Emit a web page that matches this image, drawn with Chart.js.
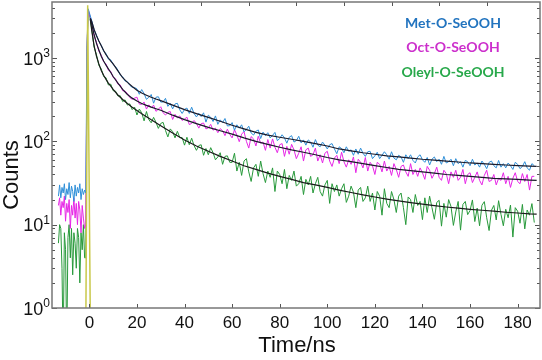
<!DOCTYPE html>
<html>
<head>
<meta charset="utf-8">
<script src="https://cdn.jsdelivr.net/npm/chart.js@4.4.0/dist/chart.umd.min.js"></script>
<style>
  html, body { margin: 0; padding: 0; background: #fff; }
  #caja { width: 542px; height: 360px; position: relative; }
</style>
</head>
<body>
<div id="caja"><canvas id="grafico"></canvas></div>
<script>
// Tiempos de las curvas medidas (ns)
const tiempoDecay = [
  -13, -12.5, -12, -11.5, -11, -10.5, -10, -9.5, -9, -8.5, -8, -7.5, -7, -6.5, -6, -5.5, -5, -4.5, -4, -3.5, -3, -2.5, -2,
  -1.5, -1, -0.5,
  0, 1, 2, 3, 4, 5, 6, 7, 8, 9,
  10, 11, 12, 13, 14, 15, 16, 17, 18, 19,
  20, 21, 22, 23, 24, 25, 26, 27, 28, 29,
  30, 31, 32, 33, 34, 35, 36, 37, 38, 39,
  40, 41, 42, 43, 44, 45, 46, 47, 48, 49,
  50, 51, 52, 53, 54, 55, 56, 57, 58, 59,
  60, 61, 62, 63, 64, 65, 66, 67, 68, 69,
  70, 71, 72, 73, 74, 75, 76, 77, 78, 79,
  80, 81, 82, 83, 84, 85, 86, 87, 88, 89,
  90, 91, 92, 93, 94, 95, 96, 97, 98, 99,
  100, 101, 102, 103, 104, 105, 106, 107, 108, 109,
  110, 111, 112, 113, 114, 115, 116, 117, 118, 119,
  120, 121, 122, 123, 124, 125, 126, 127, 128, 129,
  130, 131, 132, 133, 134, 135, 136, 137, 138, 139,
  140, 141, 142, 143, 144, 145, 146, 147, 148, 149,
  150, 151, 152, 153, 154, 155, 156, 157, 158, 159,
  160, 161, 162, 163, 164, 165, 166, 167, 168, 169,
  170, 171, 172, 173, 174, 175, 176, 177, 178, 179,
  180, 181, 182, 183, 184, 185, 186, 187
];

const cuentasMet = [
  22, 30, 21, 28, 24, 31, 20, 27, 23, 32, 21, 29, 25, 19, 30, 22, 28, 24, 31, 20, 27, 23, 26,
  24, 1400, 3900,
  3500, 2790, 2170, 1880, 1580, 1420, 1210, 1125, 970, 950,
  835, 790, 715, 625, 595, 530, 520, 470, 445, 442,
  426, 367, 418, 373, 319, 338, 365, 287, 338, 343,
  296, 297, 328, 263, 285, 245, 281, 286, 239, 216,
  242, 251, 216, 257, 216, 196, 217, 198, 220, 170,
  206, 194, 173, 202, 160, 181, 168, 188, 153, 154,
  168, 136, 158, 144, 158, 130, 139, 152, 126, 119,
  132, 137, 108, 129, 117, 127, 110, 118, 128, 102,
  108, 120, 110, 95, 112, 117, 98, 102, 115, 96,
  104, 90, 104, 98, 85, 105, 90, 86, 98, 90,
  81, 91, 94, 81, 71, 86, 82, 73, 86, 76,
  79, 68, 81, 70, 83, 72, 66, 75, 76, 62,
  67, 74, 62, 68, 75, 69, 61, 75, 63, 60,
  68, 65, 56, 69, 62, 69, 59, 55, 65, 69,
  60, 56, 64, 52, 61, 65, 57, 61, 53, 66,
  55, 57, 61, 51, 62, 54, 57, 49, 59, 57,
  51, 61, 52, 55, 49, 58, 53, 47, 56, 58,
  51, 48, 59, 49, 54, 48, 55, 51, 46, 56,
  53, 47, 50, 57, 48, 45, 54, 51
];

const cuentasOct = [
  17, 21, 13, 19, 16, 22, 11, 18, 14, 20, 9, 17, 13, 21, 12, 18, 10, 19, 15, 8, 17, 12, 9,
  10, 1300, 3800,
  3400, 2620, 1850, 1540, 1210, 1080, 900, 850, 715, 690,
  585, 565, 485, 475, 405, 400, 375, 335, 320, 330,
  339, 280, 278, 296, 244, 274, 253, 272, 229, 243,
  260, 220, 207, 223, 228, 183, 211, 191, 202, 178,
  185, 195, 159, 164, 178, 164, 144, 163, 166, 141,
  145, 160, 136, 144, 127, 142, 134, 117, 140, 121,
  110, 138, 119, 99, 122, 131, 100, 83, 114, 107,
  88, 115, 95, 98, 78, 105, 83, 107, 85, 73,
  91, 94, 66, 87, 70, 92, 79, 62, 72, 86,
  58, 79, 83, 66, 69, 83, 58, 69, 55, 72,
  76, 58, 50, 63, 68, 54, 74, 57, 49, 60,
  53, 65, 42, 61, 56, 48, 64, 44, 56, 51,
  40, 56, 53, 43, 58, 44, 50, 39, 54, 46,
  37, 50, 52, 43, 38, 54, 40, 46, 38, 48,
  42, 35, 50, 45, 36, 41, 49, 37, 34, 45,
  41, 31, 43, 37, 45, 34, 37, 46, 31, 40,
  42, 32, 37, 43, 34, 30, 39, 45, 33, 34,
  40, 30, 36, 34, 42, 31, 38, 28, 36, 42,
  33, 31, 41, 33, 40, 26, 38, 38
];

const cuentasOleyl = [
  6, 10, 9, 3, 0.3, 8, 5, 0.3, 7, 10, 4, 9, 2.5, 8, 6, 3, 9, 7, 2, 8, 5, 10, 4,
  4, 1200, 3700,
  3400, 2220, 1350, 1090, 815, 740, 600, 580, 475, 485,
  405, 400, 350, 352, 300, 315, 272, 282, 240, 258,
  207, 244, 220, 176, 228, 182, 167, 194, 169, 143,
  164, 169, 135, 113, 141, 131, 110, 132, 111, 111,
  90, 112, 91, 109, 89, 78, 89, 91, 68, 82,
  69, 84, 73, 60, 65, 73, 53, 66, 67, 56,
  56, 72, 44, 56, 39, 58, 62, 43, 33, 48,
  53, 38, 58, 41, 32, 44, 37, 48, 25, 44,
  40, 31, 46, 27, 39, 34, 44, 29, 31, 38,
  23, 35, 30, 38, 24, 31, 37, 25, 22, 30,
  34, 18, 31, 25, 30, 22, 27, 31, 18.5, 22,
  29, 24.5, 16, 26, 28, 19, 21, 29, 19, 24,
  15, 25, 22, 13, 27, 18, 16, 25, 20, 14,
  22, 24, 16, 10, 21.5, 20, 14, 23, 17, 19,
  11.5, 21, 14, 22, 16, 11.6, 18.5, 19.6, 9.6, 18,
  12.3, 20, 16.5, 9.8, 14.2, 19, 8.6, 17.5, 19, 13.2,
  14.8, 19.8, 10.9, 15.8, 9.7, 17.1, 18.9, 12.1, 8.5, 14.9,
  17, 11.4, 19.4, 13.3, 9.7, 15.3, 12.1, 17.2, 7.1, 16,
  14.5, 10.4, 17.5, 8.9, 15, 13, 17.9, 10.6
];

// Ajustes (lineas negras)
const tiempoAjuste = [0.4, 1, 2, 3, 4, 5, 6, 7, 8, 9, 10, 12, 14, 16, 18, 20, 22, 24, 26, 28, 30,
  35, 40, 45, 50, 55, 60, 65, 70, 75, 80, 85, 90, 95, 100, 105, 110, 115, 120, 125, 130,
  135, 140, 145, 150, 155, 160, 165, 170, 175, 180, 185, 188];
const ajusteMet = [3000, 2750, 2200, 1850, 1600, 1400, 1230, 1100, 1000, 920, 850, 700, 580, 510, 455, 410, 380, 358, 338, 322, 308,
  272, 240, 215, 194, 174, 156, 141, 128, 119, 112, 106, 100, 94, 88, 81, 77, 73, 70, 67, 65,
  63, 61, 59.5, 58, 56.5, 55, 54, 53, 52, 51, 50.3, 50];
const ajusteOct = [2950, 2550, 1900, 1500, 1250, 1050, 920, 820, 740, 670, 600, 500, 420, 365, 330, 305, 285, 270, 257, 246, 236,
  206, 182, 163, 147, 134, 122, 110, 100, 92, 85, 79, 74, 69, 64, 60, 57, 54, 51, 48.5, 46,
  44.5, 43, 41.5, 40, 39, 38, 37, 36, 35.5, 35, 34.3, 34];
const ajusteOleyl = [2900, 2150, 1400, 1050, 850, 710, 620, 555, 500, 460, 420, 360, 318, 284, 256, 234, 214, 197, 181, 167, 154,
  126, 104, 88, 76, 66, 58, 51, 46, 41.5, 38, 35, 32, 30, 28, 26, 24.3, 22.8, 21.5, 20.3, 19.3,
  18.4, 17.6, 16.9, 16.3, 15.8, 15.3, 14.9, 14.5, 14.1, 13.8, 13.5, 13.4];

// Respuesta del instrumento (amarillo)
const tiempoIRF = [-1.5, -0.7, 0.45];
const cuentasIRF = [0.5, 4300, 0.5];

// Ejes
const ticksX = [0, 20, 40, 60, 80, 100, 120, 140, 160, 180];
const ticksXArriba = [7, 27, 47, 67, 87, 107, 127, 147, 167];
const ticksYMayor = [1, 10, 100, 1000];
const exponentesY = ['0', '1', '2', '3'];
const ticksYMenor = [2, 3, 4, 5, 6, 7, 8, 9, 20, 30, 40, 50, 60, 70, 80, 90,
  200, 300, 400, 500, 600, 700, 800, 900, 2000, 3000, 4000];

const nombresSeries = ['Met-O-SeOOH', 'Oct-O-SeOOH', 'Oleyl-O-SeOOH'];
const coloresDatos = ['#2f8fd8', '#e626e6', '#27993a'];
const coloresTexto = ['#2274bf', '#cc2fcc', '#27a84a'];

const fuente = '"Liberation Sans", Arial, sans-serif';

function puntos(tiempos, valores) {
  return tiempos.map((t, i) => ({ x: t, y: valores[i] }));
}

function crearDataset(tiempos, valores, color, ancho, orden) {
  return {
    data: puntos(tiempos, valores),
    borderColor: color,
    borderWidth: ancho,
    pointRadius: 0,
    fill: false,
    tension: 0,
    order: orden
  };
}

const marcoPlugin = {
  id: 'marco',
  afterDraw(chart) {
    const ctx = chart.ctx;
    const a = chart.chartArea;
    const sx = chart.scales.x;
    const sy = chart.scales.y;
    ctx.save();

    // marcas de los ejes
    ctx.strokeStyle = '#555';
    ctx.lineWidth = 1;
    ctx.beginPath();
    ticksYMenor.forEach(v => {
      const py = Math.round(sy.getPixelForValue(v)) + 0.5;
      ctx.moveTo(a.left, py); ctx.lineTo(a.left + 3, py);
      ctx.moveTo(a.right, py); ctx.lineTo(a.right - 3, py);
    });
    ticksYMayor.forEach(v => {
      const py = Math.round(sy.getPixelForValue(v)) + 0.5;
      ctx.moveTo(a.left, py); ctx.lineTo(a.left + 5, py);
      ctx.moveTo(a.right, py); ctx.lineTo(a.right - 5, py);
    });
    ticksX.forEach(v => {
      const px = Math.round(sx.getPixelForValue(v)) + 0.5;
      ctx.moveTo(px, a.bottom); ctx.lineTo(px, a.bottom - 4);
    });
    ticksXArriba.forEach(v => {
      const px = Math.round(sx.getPixelForValue(v)) + 0.5;
      ctx.moveTo(px, a.top); ctx.lineTo(px, a.top + 4);
    });
    ctx.stroke();

    // marco
    ctx.strokeStyle = '#777';
    ctx.lineWidth = 1.5;
    ctx.strokeRect(a.left, a.top, a.right - a.left, a.bottom - a.top);

    // etiquetas eje x
    ctx.fillStyle = '#111';
    ctx.font = '17px ' + fuente;
    ctx.textAlign = 'center';
    ctx.textBaseline = 'alphabetic';
    ticksX.forEach(v => {
      ctx.fillText(String(v), sx.getPixelForValue(v), 328);
    });

    // etiquetas eje y (10 con exponente)
    ticksYMayor.forEach((v, i) => {
      const py = sy.getPixelForValue(v);
      ctx.font = '12px ' + fuente;
      ctx.textAlign = 'right';
      const anchoExp = ctx.measureText(exponentesY[i]).width;
      ctx.fillText(exponentesY[i], 50, py - 1);
      ctx.font = '18px ' + fuente;
      ctx.fillText('10', 50 - anchoExp, py + 6.5);
    });

    // titulos
    ctx.font = '22px ' + fuente;
    ctx.textAlign = 'center';
    ctx.fillText('Time/ns', 297, 352);
    ctx.save();
    ctx.translate(18, 175);
    ctx.rotate(-Math.PI / 2);
    ctx.fillText('Counts', 0, 0);
    ctx.restore();

    // leyenda
    ctx.font = 'bold 14px Lato, sans-serif';
    ctx.textBaseline = 'middle';
    nombresSeries.forEach((n, i) => {
      ctx.fillStyle = coloresTexto[i];
      ctx.fillText(n, 453, 23 + i * 24.5);
    });

    ctx.restore();
  }
};

const ctx = document.getElementById('grafico').getContext('2d');
const grafico = new Chart(ctx, {
  type: 'line',
  data: {
    datasets: [
      crearDataset(tiempoIRF, cuentasIRF, '#c9c84a', 1.5, 0),
      crearDataset(tiempoAjuste, ajusteMet, '#1a1a2a', 1.2, 1),
      crearDataset(tiempoAjuste, ajusteOct, '#1a1a2a', 1.2, 1),
      crearDataset(tiempoAjuste, ajusteOleyl, '#1a1a1a', 1.2, 1),
      crearDataset(tiempoDecay, cuentasMet, coloresDatos[0], 1, 2),
      crearDataset(tiempoDecay, cuentasOct, coloresDatos[1], 1, 3),
      crearDataset(tiempoDecay, cuentasOleyl, coloresDatos[2], 1, 4)
    ]
  },
  options: {
    responsive: true,
    maintainAspectRatio: false,
    animation: false,
    layout: { padding: { left: 52, right: 2, top: 2, bottom: 52 } },
    plugins: {
      legend: { display: false },
      tooltip: { enabled: false }
    },
    scales: {
      x: { type: 'linear', min: -15.7, max: 189.4, display: false },
      y: { type: 'logarithmic', min: 1, max: 4700, display: false }
    }
  },
  plugins: [marcoPlugin]
});
</script>
</body>
</html>
